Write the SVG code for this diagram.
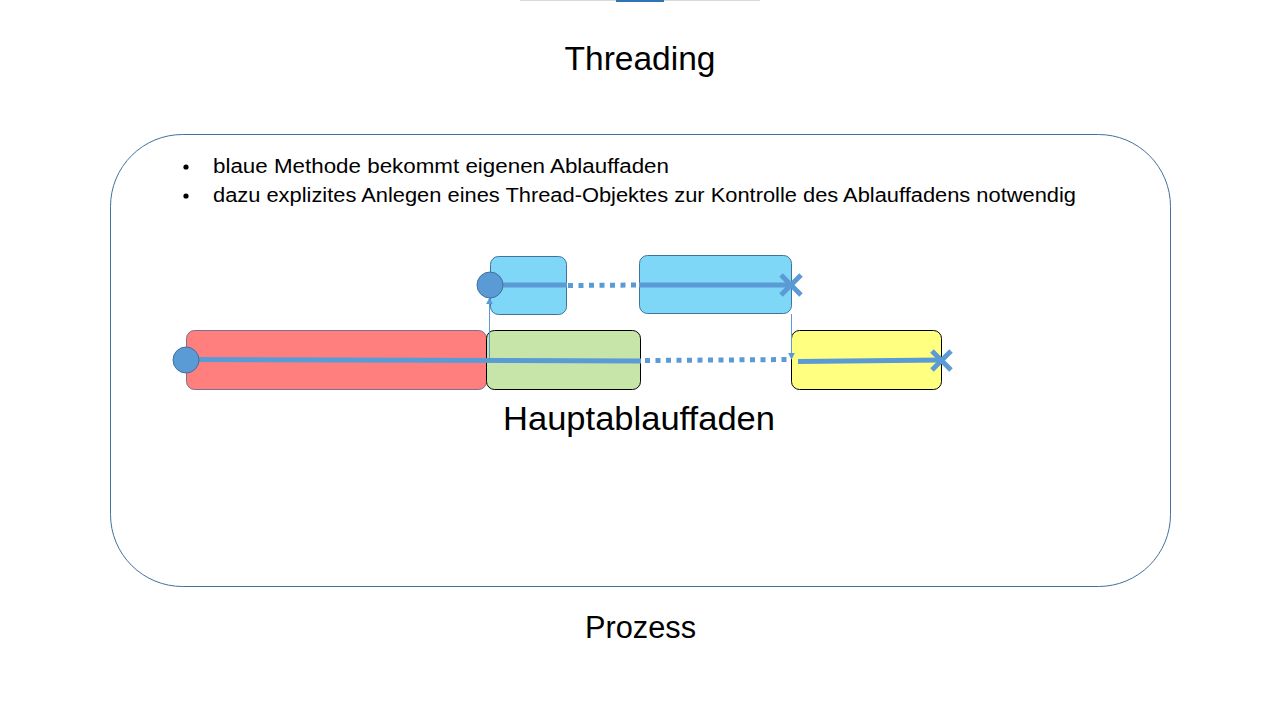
<svg xmlns="http://www.w3.org/2000/svg" width="1280" height="720" viewBox="0 0 1280 720">
  <style>
    .txt { font-family: "Liberation Sans", Arial, sans-serif; fill: #000; }
    .box { stroke-width: 1; }
    .thread { stroke: #5B9BD5; stroke-width: 5; fill: none; }
    .dots { stroke: #5B9BD5; stroke-width: 5; stroke-dasharray: 5 5.5; fill: none; }
    .cross { stroke: #5B9BD5; stroke-width: 5; stroke-linecap: butt; }
    .start { fill: #5B9BD5; stroke: #41719C; stroke-width: 1; }
    .link { stroke: #5B9BD5; stroke-width: 1; fill: none; }
  </style>
  <defs>
    <marker id="tip" viewBox="0 0 10 10" refX="9" refY="5" markerWidth="7" markerHeight="7" orient="auto" markerUnits="userSpaceOnUse">
      <path d="M0,0 L10,5 L0,10 z" fill="#5B9BD5"/>
    </marker>
  </defs>

  <rect width="1280" height="720" fill="#fff"/>

  <!-- slide navigation bar -->
  <rect x="520" y="0" width="240" height="1" fill="#D9D9D9"/>
  <rect x="616" y="0" width="48" height="2" fill="#2E75B6"/>

  <text class="txt" x="640" y="70" font-size="33" text-anchor="middle" textLength="151" lengthAdjust="spacingAndGlyphs">Threading</text>

  <!-- process frame -->
  <g id="prozess">
    <rect x="110.5" y="134.5" width="1060" height="452" rx="72" fill="none" stroke="#41719C" stroke-width="1"/>
    <text class="txt" x="640.5" y="638" font-size="31" text-anchor="middle" textLength="111" lengthAdjust="spacingAndGlyphs">Prozess</text>
  </g>

  <g id="notes">
    <circle cx="186" cy="167" r="2.6" fill="#000"/>
    <circle cx="186" cy="196" r="2.6" fill="#000"/>
    <text class="txt" x="213" y="173" font-size="20" textLength="456" lengthAdjust="spacingAndGlyphs">blaue Methode bekommt eigenen Ablauffaden</text>
    <text class="txt" x="213" y="202" font-size="20" textLength="863" lengthAdjust="spacingAndGlyphs">dazu explizites Anlegen eines Thread-Objektes zur Kontrolle des Ablauffadens notwendig</text>
  </g>

  <!-- code blocks -->
  <g id="red-block">
    <rect class="box" x="186.5" y="330.5" width="300" height="59" rx="8" fill="#FF7F7F" stroke="#7F6F8A"/>
  </g>
  <g id="green-block">
    <rect class="box" x="486.5" y="330.5" width="154" height="59" rx="8" fill="#C8E5A9" stroke="#000"/>
  </g>
  <g id="yellow-block">
    <rect class="box" x="791.5" y="330.5" width="150" height="59" rx="8" fill="#FFFF80" stroke="#000"/>
  </g>
  <g id="blue-block-1">
    <rect class="box" x="490.5" y="256.5" width="76" height="58" rx="8" fill="#7FD7F7" stroke="#41719C"/>
  </g>
  <g id="blue-block-2">
    <rect class="box" x="639.5" y="255.5" width="152" height="58" rx="8" fill="#7FD7F7" stroke="#41719C"/>
  </g>

  <g id="connectors">
    <!-- main thread -->
    <line class="thread" x1="186" y1="359.5" x2="641" y2="361"/>
    <line class="dots" x1="645" y1="360.5" x2="792" y2="359.5"/>
    <line class="thread" x1="798" y1="361.5" x2="941" y2="360"/>
    <line class="cross" x1="932" y1="351" x2="951" y2="370"/>
    <line class="cross" x1="932" y1="370" x2="951" y2="351"/>
    <!-- blue thread -->
    <line class="thread" x1="490" y1="285" x2="567" y2="285"/>
    <line class="dots" x1="568" y1="285.5" x2="639" y2="285"/>
    <line class="thread" x1="639" y1="285" x2="791" y2="285"/>
    <line class="cross" x1="781" y1="275" x2="801" y2="295"/>
    <line class="cross" x1="781" y1="295" x2="801" y2="275"/>
    <!-- start / join links -->
    <line class="link" x1="489.5" y1="362" x2="489.5" y2="298" marker-end="url(#tip)"/>
    <line class="link" x1="791.5" y1="314" x2="791.5" y2="359" marker-end="url(#tip)"/>
    <!-- thread start points -->
    <circle class="start" cx="186" cy="360" r="13"/>
    <circle class="start" cx="490" cy="285" r="13"/>
  </g>

  <g id="label">
    <text class="txt" x="639" y="430" font-size="33" text-anchor="middle" textLength="272" lengthAdjust="spacingAndGlyphs">Hauptablauffaden</text>
  </g>
</svg>
